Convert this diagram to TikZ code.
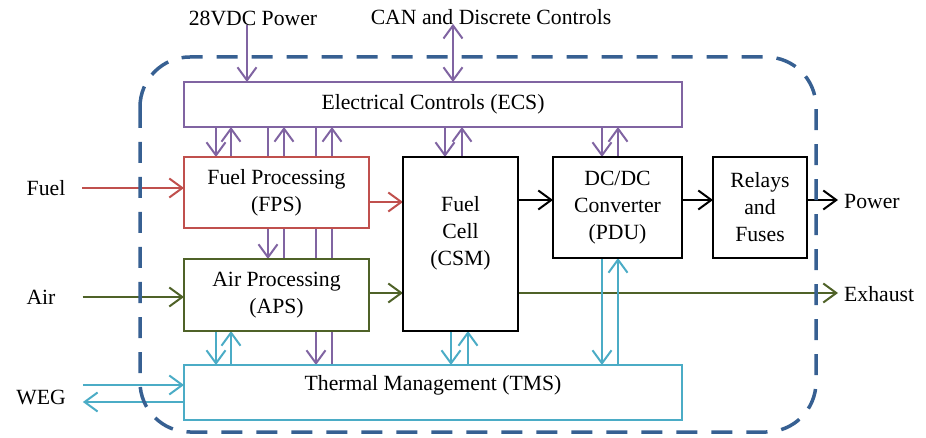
\documentclass[tikz,border=0pt]{standalone}
\usepackage{fontspec}
\setmainfont{Liberation Serif}
\usetikzlibrary{arrows.meta,backgrounds}
\definecolor{cpur}{HTML}{8064A2}
\definecolor{cred}{HTML}{C0504D}
\definecolor{cgrn}{HTML}{4F6228}
\definecolor{ccya}{HTML}{4BACC6}
\definecolor{cdash}{HTML}{376092}
\begin{document}
\begin{tikzpicture}[x=1pt,y=-1pt,
  font=\fontsize{21.7}{27}\selectfont,
  >={Straight Barb[length=13pt,width=19pt]},
  blk/.style={draw, line width=1.6pt, fill=white, inner sep=0pt, outer sep=0pt, align=center},
  conn/.style={line width=2pt},
  lbl/.style={inner sep=0pt, align=center},
  boundary/.style={draw=cdash, line width=3.5pt, dash pattern=on 21pt off 14pt, rounded corners=50pt}]
\useasboundingbox (0,0) rectangle (926,438);

% boxes
\node[blk, draw=cpur, minimum width=498pt, minimum height=45pt] (ecs) at (433,104.5) {Electrical Controls (ECS)};
\node[blk, draw=cred, minimum width=185pt, minimum height=71pt] (fps) at (276.5,192.5) {Fuel Processing\\(FPS)};
\node[blk, draw=cgrn, minimum width=185pt, minimum height=72pt] (aps) at (276.5,295) {Air Processing\\(APS)};
\node[blk, draw=ccya, minimum width=498pt, minimum height=55pt,
  label={[lbl,yshift=7pt]center:Thermal Management (TMS)}] (tms) at (433,392.5) {};
\node[blk, draw=black, minimum width=115pt, minimum height=174pt,
  label={[lbl,yshift=11pt]center:Fuel\\Cell\\(CSM)}] (csm) at (460.5,244) {};
\node[blk, draw=black, minimum width=129pt, minimum height=101pt] (pdu) at (617.5,207.5) {DC/DC\\Converter\\(PDU)};
\node[blk, draw=black, minimum width=94pt, minimum height=101pt] (rel) at (760,207.5) {Relays\\and\\Fuses};

% outside labels
\node[lbl] (pwr) at (253,18) {28VDC Power};
\node[lbl] (can) at (491,17) {CAN and Discrete Controls};
\node[lbl] (fuel) at (46,188) {Fuel};
\node[lbl] (air) at (41,297) {Air};
\node[lbl] (weg) at (41,397) {WEG};
\node[lbl, anchor=west] (power) at (844,202) {Power};
\node[lbl, anchor=west] (exh) at (844,294) {Exhaust};

\begin{scope}[on background layer]
 \begin{scope}[conn, draw=cpur]
  \draw[->] (247,0 |- pwr.south) ++(0,-1) -- (247,0 |- ecs.north);
  \draw[<->] (453,0 |- can.south) ++(0,-1) -- (453,0 |- ecs.north);
  \draw[->] (216,0 |- ecs.south) -- (216,0 |- fps.north);
  \draw[->] (231,0 |- fps.north) -- (231,0 |- ecs.south);
  \draw[->] (268,0 |- ecs.south) -- (268,0 |- aps.north);
  \draw[->] (284,0 |- aps.north) -- (284,0 |- ecs.south);
  \draw[->] (316,0 |- ecs.south) -- (316,0 |- tms.north);
  \draw[->] (332,0 |- tms.north) -- (332,0 |- ecs.south);
  \draw[->] (445,0 |- ecs.south) -- (445,0 |- csm.north);
  \draw[->] (462,0 |- csm.north) -- (462,0 |- ecs.south);
  \draw[->] (602,0 |- ecs.south) -- (602,0 |- pdu.north);
  \draw[->] (618,0 |- pdu.north) -- (618,0 |- ecs.south);
 \end{scope}
 \begin{scope}[conn, draw=cred]
  \draw[->] ([xshift=17pt]fuel.east) -- (fps.west |- fuel.east);
  \draw[->] (fps.east |- 0,202) -- (csm.west |- 0,202);
 \end{scope}
 \begin{scope}[conn, draw=cgrn]
  \draw[->] ([xshift=27pt]air.east) -- (aps.west |- air.east);
  \draw[->] (aps.east |- 0,293) -- (csm.west |- 0,293);
  \draw[->] (csm.east |- 0,293) -- ([xshift=-6pt]exh.west |- 0,293);
 \end{scope}
 \begin{scope}[conn, draw=black]
  \draw[->] (csm.east |- 0,200) -- (pdu.west |- 0,200);
  \draw[->] (pdu.east |- 0,200) -- (rel.west |- 0,200);
  \draw[->] (rel.east |- 0,200) -- ([xshift=-6pt]power.west |- 0,200);
 \end{scope}
 \begin{scope}[conn, draw=ccya]
  \draw[->] (216,0 |- aps.south) -- (216,0 |- tms.north);
  \draw[->] (231,0 |- tms.north) -- (231,0 |- aps.south);
  \draw[->] (451,0 |- csm.south) -- (451,0 |- tms.north);
  \draw[->] (468,0 |- tms.north) -- (468,0 |- csm.south);
  \draw[->] (602,0 |- pdu.south) -- (602,0 |- tms.north);
  \draw[->] (618,0 |- tms.north) -- (618,0 |- pdu.south);
  \draw[->] ([xshift=17pt]weg.east |- 0,385) -- (tms.west |- 0,385);
  \draw[->] (tms.west |- 0,402) -- ([xshift=17pt]weg.east |- 0,402);
 \end{scope}
\end{scope}

\draw[boundary] (140,57) rectangle (816,432);
\end{tikzpicture}
\end{document}
